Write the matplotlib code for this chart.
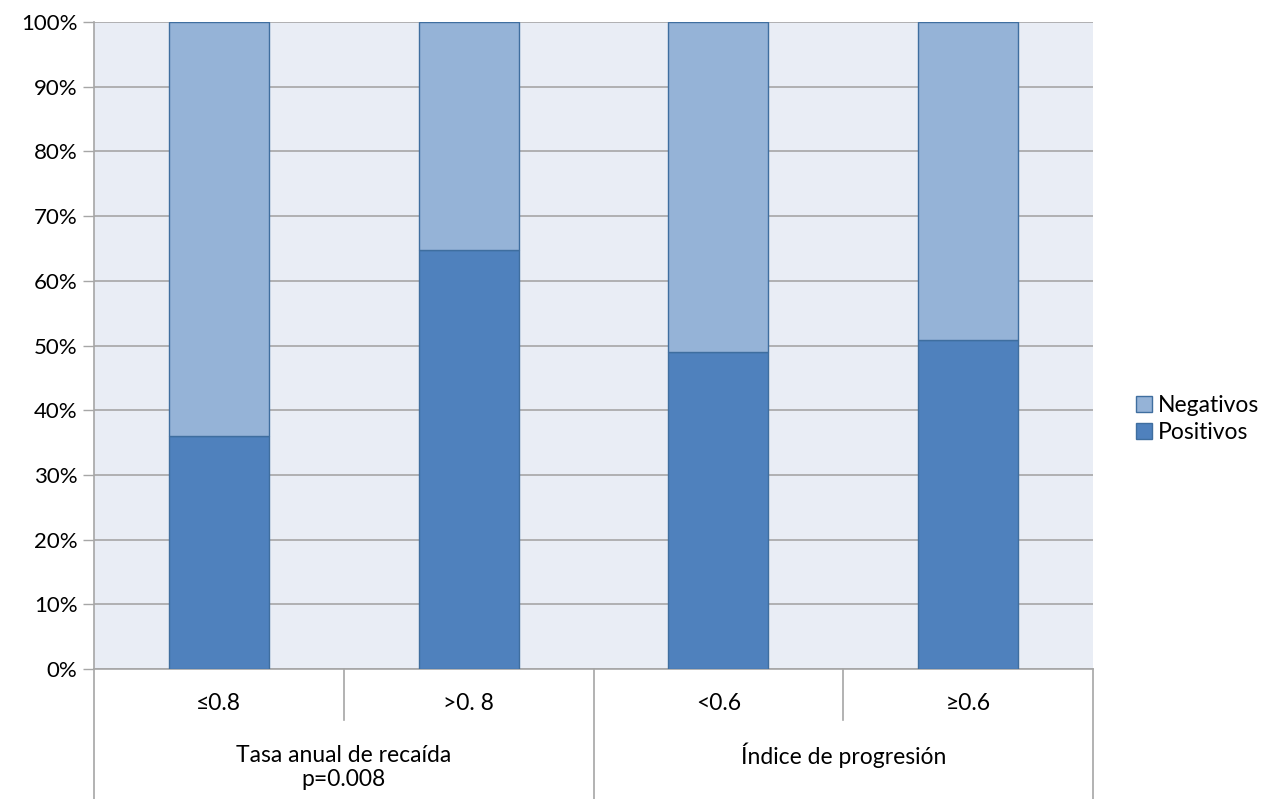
import matplotlib
matplotlib.use("Agg")
import matplotlib.pyplot as plt
from matplotlib.patches import Patch
from matplotlib.ticker import FuncFormatter
from matplotlib.transforms import blended_transform_factory

plt.rcParams['font.family'] = ['Lato', 'DejaVu Sans']

# Data
categories = ["≤0.8", ">0. 8", "<0.6", "≥0.6"]
groups = ["Tasa anual de recaída\np=0.008", "Índice de progresión"]
group_size = [2, 2]
positivos = [36, 64.8, 49, 50.8]
negativos = [100 - v for v in positivos]
series_names = ["Positivos", "Negativos"]
yticks = list(range(0, 101, 10))

W, H = 1267, 799
fig = plt.figure(figsize=(W / 100, H / 100), dpi=100)
left, right, top, bottom = 94, 1093, 22, 669
ax = fig.add_axes([left / W, 1 - bottom / H, (right - left) / W, (bottom - top) / H])

c_pos = "#4F81BD"
c_neg = "#95B3D7"
edge = "#3F6E9F"
grid_c = "#A6A6A6"
fs = 16.5

ax.set_facecolor("#E9EDF5")
x = list(range(len(categories)))
ax.bar(x, positivos, width=0.4, color=c_pos, edgecolor=edge, linewidth=1.0, zorder=3)
ax.bar(x, negativos, width=0.4, bottom=positivos, color=c_neg, edgecolor=edge,
       linewidth=1.0, zorder=3)

ax.set_xlim(-0.5, len(categories) - 0.5)
ax.set_ylim(0, 100)
ax.set_yticks(yticks)
ax.yaxis.set_major_formatter(FuncFormatter(lambda v, p: f"{int(v)}%"))
ax.yaxis.grid(True, color=grid_c, linewidth=1.2, zorder=1)
ax.set_axisbelow(True)
ax.tick_params(axis='y', length=8, width=1, color=grid_c, labelsize=16, pad=4,
               labelcolor="#000000")
ax.set_xticks([])
for s in ["top", "right"]:
    ax.spines[s].set_visible(False)
ax.spines["left"].set_color(grid_c)
ax.spines["left"].set_linewidth(1.2)
ax.spines["bottom"].set_color(grid_c)
ax.spines["bottom"].set_linewidth(1.2)

# Two-level category axis
tr = blended_transform_factory(ax.transData, ax.transAxes)
ph = bottom - top
inner_depth = -(720 - bottom) / ph
outer_depth = -(H - bottom) / ph
for i, lab in enumerate(categories):
    ax.text(i, -(703 - bottom) / ph, lab, transform=tr, ha="center", va="center",
            fontsize=fs)
for xs in [0.5, 2.5]:
    ax.plot([xs, xs], [0, inner_depth], transform=tr, color=grid_c, lw=1.2,
            clip_on=False)
start = 0
for g, n in zip(groups, group_size):
    ax.plot([start - 0.5, start - 0.5], [0, outer_depth], transform=tr, color=grid_c,
            lw=1.2, clip_on=False)
    for k, ln in enumerate(g.split("\n")):
        ax.text(start + (n - 1) / 2, -(755 + 24 * k - bottom) / ph, ln, transform=tr,
                ha="center", va="center", fontsize=fs)
    start += n
ax.plot([start - 0.5, start - 0.5], [0, outer_depth], transform=tr, color=grid_c,
        lw=1.2, clip_on=False)

handles = [Patch(facecolor=c_neg, edgecolor=edge, label=series_names[1]),
           Patch(facecolor=c_pos, edgecolor=edge, label=series_names[0])]
fig.legend(handles=handles, loc="center left", bbox_to_anchor=(1127 / W, 1 - 419 / H),
           frameon=False, fontsize=fs, handlelength=0.7, handleheight=0.7,
           handletextpad=0.25, labelspacing=0.3, borderaxespad=0)

fig.savefig("out.png", dpi=100, facecolor="white")
